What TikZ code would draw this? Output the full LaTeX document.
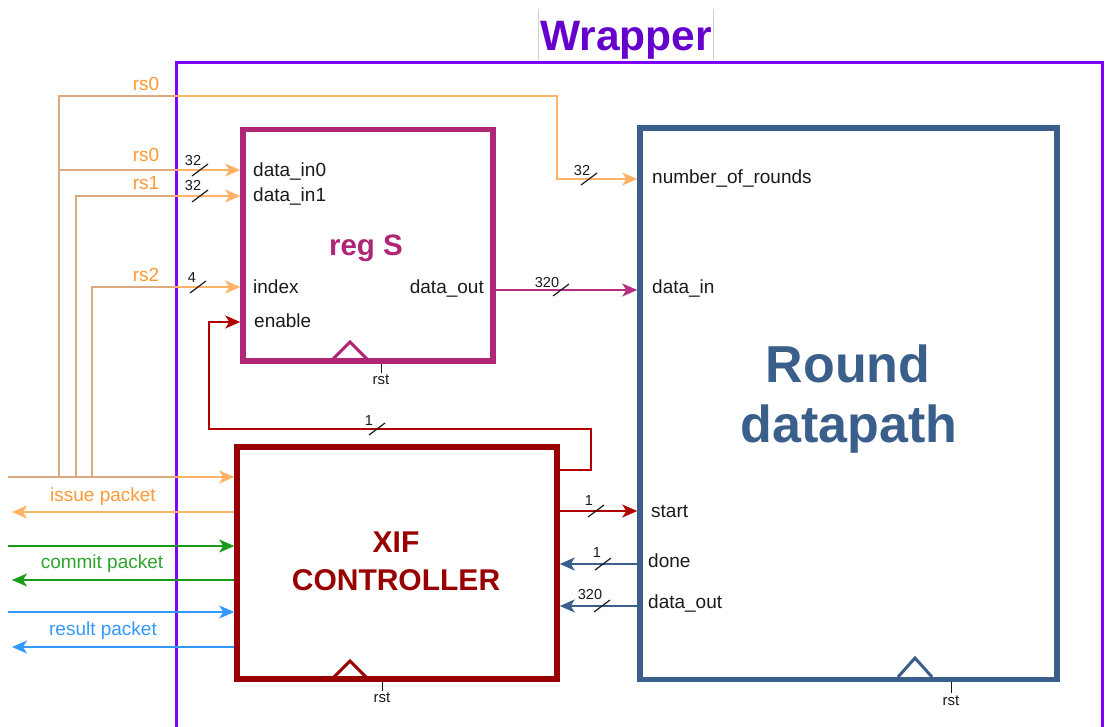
\documentclass[tikz,border=0pt]{standalone}
\usepackage{fontspec}
\setmainfont{Liberation Sans}
\usetikzlibrary{arrows.meta}
\definecolor{wrapC}{HTML}{7F00FF}
\definecolor{wrapT}{HTML}{6600CC}
\definecolor{regC}{HTML}{AF2676}
\definecolor{rdpC}{HTML}{3A5F8B}
\definecolor{xifC}{HTML}{990000}
\definecolor{orl}{HTML}{FFB366}
\definecolor{tanl}{HTML}{DCAA80}
\definecolor{ort}{HTML}{FF9933}
\definecolor{grl}{HTML}{1A9A1A}
\definecolor{grt}{HTML}{2EA52E}
\definecolor{bll}{HTML}{3399FF}
\definecolor{magl}{HTML}{B5307F}
\definecolor{redl}{HTML}{B00000}
\definecolor{txt}{HTML}{1A1A1A}
\tikzset{
  boxst/.style={draw, line width=5.5pt, inner sep=0pt, outer sep=2.75pt},
  portlbl/.style={anchor=base west, inner sep=0pt, text=txt, font=\fontsize{19}{22}\selectfont},
  portlblr/.style={anchor=base east, inner sep=0pt, text=txt, font=\fontsize{19}{22}\selectfont},
  siglbl/.style={anchor=base, inner sep=0pt, font=\fontsize{19}{22}\selectfont},
  busnum/.style={anchor=base, inner sep=0pt, text=txt, font=\fontsize{14.5}{17}\selectfont},
  rstlbl/.style={anchor=base, inner sep=0pt, text=txt, font=\fontsize{15}{17}\selectfont},
  slashst/.style={draw=txt, line width=1.2pt},
  sig/.style={line width=1.5pt},
  arr/.style={-{Stealth[length=15pt,width=13pt,inset=4pt]}},
  ttl/.style={anchor=base, inner sep=0pt},
  clk/.style={line width=3pt, line join=miter},
}
\newcommand\busmark[6]{%
  \draw[slashst] (#1-8,#2+6) -- (#1+8,#2-6);
  \node[busnum] (#6) at (#3,#4) {#5};}
\begin{document}
\begin{tikzpicture}[x=1pt,y=-1pt]
\useasboundingbox (0,0) rectangle (1105,726);
\clip (0,0) rectangle (1105,726);
\fill[white] (0,0) rectangle (1105,726);

% title
\draw[black!18, line width=0.8pt] (538,9) -- (538,60) (713,9) -- (713,60);
\node[ttl, text=wrapT, font=\bfseries\fontsize{42.5}{50}\selectfont] (wraptitle) at (626,50) {Wrapper};

% wrapper
\node[draw=wrapC, line width=3pt, minimum width=926pt, minimum height=740pt, inner sep=0pt, outer sep=0pt, anchor=north west] (wrap) at (176,62.5) {};

% boxes
\node[boxst, draw=regC, minimum width=250pt, minimum height=231.5pt] (regs) at (368,245.25) {};
\node[boxst, draw=xifC, minimum width=320pt, minimum height=232pt] (xif) at (397,563) {};
\node[boxst, draw=rdpC, minimum width=417pt, minimum height=551.5pt] (rdp) at (848.5,403.75) {};

% titles
\node[ttl, text=regC, font=\bfseries\fontsize{29.5}{34}\selectfont] (regstitle) at (366,255) {reg S};
\node[ttl, text=rdpC, font=\bfseries\fontsize{52}{60}\selectfont] (rdptitleA) at (848,382) {Round};
\node[ttl, text=rdpC, font=\bfseries\fontsize{52}{60}\selectfont] (rdptitleB) at (849,442) {datapath};
\node[ttl, text=xifC, font=\bfseries\fontsize{30}{36}\selectfont] (xiftitleA) at (396,552) {XIF};
\node[ttl, text=xifC, font=\bfseries\fontsize{30}{36}\selectfont] (xiftitleB) at (396,590) {CONTROLLER};

% clock triangles
\draw[clk, draw=regC] (333,359) -- (350,342) -- (367,359);
\draw[clk, draw=xifC] (334,677) -- (350,661) -- (366,677);
\draw[clk, draw=rdpC] (898,677) -- (915,658) -- (932,677);

% rst
\draw[txt, line width=1pt] (381,364) -- (381,373);
\node[rstlbl] (rstregs) at (381,384) {rst};
\draw[txt, line width=1pt] (382,682) -- (382,691);
\node[rstlbl] (rstxif) at (382,702) {rst};
\draw[txt, line width=1pt] (951,682) -- (951,693);
\node[rstlbl] (rstrdp) at (951,705) {rst};

% port labels
\node[portlbl] (pin0) at (253,176) {data\_in0};
\node[portlbl] (pin1) at (253,201) {data\_in1};
\node[portlbl] (pidx) at (253,293) {index};
\node[portlbl] (pen) at (254,327) {enable};
\node[portlblr] (pdo) at (484,293) {data\_out};
\node[portlbl] (pnr) at (652,183) {number\_of\_rounds};
\node[portlbl] (pdi) at (652,293) {data\_in};
\node[portlbl] (pst) at (651,517) {start};
\node[portlbl] (pdn) at (648,567) {done};
\node[portlbl] (pdo2) at (648,608) {data\_out};

% free ends on the left
\coordinate (issin) at (8,477);
\coordinate (issout) at (12,512);
\coordinate (cmin) at (8,546);
\coordinate (cmout) at (12,580);
\coordinate (rsin) at (8,612);
\coordinate (rsout) at (12,647);
\coordinate (tap0) at (59,477);
\coordinate (tap1) at (76,477);
\coordinate (tap2) at (92,477);

% orange signals
\draw[sig, orl, arr] (issin) -- (xif.west |- issin);
\draw[sig, orl, arr] (xif.west |- issout) -- (issout);
\draw[sig, orl, arr] (tap0) |- (557,96) |- (rdp.west |- 0,179);
\draw[sig, orl, arr] (59,170) -- (regs.west |- 0,170);
\draw[sig, orl, arr] (tap1) |- (regs.west |- 0,196);
\draw[sig, orl, arr] (tap2) |- (regs.west |- 0,287);
% outside the wrapper these lines look tan
\begin{scope}
\clip (0,0) rectangle (174.5,726);
\draw[sig, tanl] (issin) -- (174.5,477);
\draw[sig, tanl] (tap0) |- (174.5,96);
\draw[sig, tanl] (59,170) -- (174.5,170);
\draw[sig, tanl] (tap1) |- (174.5,196);
\draw[sig, tanl] (tap2) |- (174.5,287);
\end{scope}

% green / blue packets
\draw[sig, grl, arr] (cmin) -- (xif.west |- cmin);
\draw[sig, grl, arr] (xif.west |- cmout) -- (cmout);
\draw[sig, bll, arr] (rsin) -- (xif.west |- rsin);
\draw[sig, bll, arr] (xif.west |- rsout) -- (rsout);

% signal labels
\node[siglbl, text=ort] (lrs0a) at (146,90) {rs0};
\node[siglbl, text=ort] (lrs0b) at (146,161) {rs0};
\node[siglbl, text=ort] (lrs1) at (146,189) {rs1};
\node[siglbl, text=ort] (lrs2) at (146,281) {rs2};
\node[siglbl, text=ort] (liss) at (103,501) {issue packet};
\node[siglbl, text=grt] (lcom) at (102,568) {commit packet};
\node[siglbl, text=bll] (lres) at (103,635) {result packet};

% internal signals
\draw[sig, magl, arr] (regs.east |- 0,290) -- (rdp.west |- 0,290);
\draw[sig, redl, arr] (xif.east |- 0,470) -| (591,429) -| (209,322) -- (regs.west |- 0,322);
\draw[sig, redl, arr] (xif.east |- 0,511) -- (rdp.west |- 0,511);
\draw[sig, rdpC, arr] (rdp.west |- 0,564) -- (xif.east |- 0,564);
\draw[sig, rdpC, arr] (rdp.west |- 0,606) -- (xif.east |- 0,606);

% bus widths
\busmark{589}{179}{582}{175}{32}{bwnr}
\busmark{200}{170}{193}{165}{32}{bwin0}
\busmark{200}{196}{193}{190}{32}{bwin1}
\busmark{198}{287}{192}{282}{4}{bwidx}
\busmark{561}{290}{547}{287}{320}{bwdo}
\busmark{596}{511}{589}{505}{1}{bwst}
\busmark{603}{564}{597}{557}{1}{bwdn}
\busmark{602}{606}{590}{599}{320}{bwdo2}
\busmark{377}{429}{369}{425}{1}{bwen}
\end{tikzpicture}
\end{document}
